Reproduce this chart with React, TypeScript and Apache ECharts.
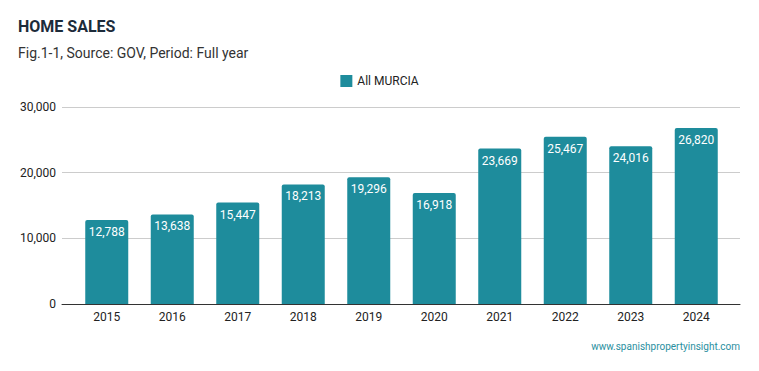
import React, { useEffect, useRef } from "react";
import * as echarts from "echarts";

const categories = ["2015", "2016", "2017", "2018", "2019", "2020", "2021", "2022", "2023", "2024"];
const sales = [12788, 13638, 15447, 18213, 19296, 16918, 23669, 25467, 24016, 26820];
const seriesName = "All MURCIA";
const titleText = "HOME SALES";
const subtitleText = "Fig.1-1, Source: GOV, Period: Full year";
const watermark = "www.spanishpropertyinsight.com";

export default function App() {
  const ref = useRef<HTMLDivElement>(null);
  useEffect(() => {
    if (!ref.current) return;
    const chart = echarts.init(ref.current, null, { renderer: "svg" });
    chart.setOption({
      animation: false,
      textStyle: { fontFamily: "Roboto" },
      title: {
        text: titleText,
        subtext: subtitleText,
        left: 13,
        top: 13,
        itemGap: 12,
        textStyle: { fontSize: 16, fontWeight: "bold", color: "#1c2b3a", fontFamily: "Roboto" },
        subtextStyle: { fontSize: 14, color: "#333", fontFamily: "Roboto" },
      },
      legend: {
        top: 70,
        left: "center",
        itemWidth: 12,
        itemHeight: 12,
        itemGap: 8,
        icon: "rect",
        textStyle: { fontSize: 12, color: "#222", fontFamily: "Roboto" },
        data: [seriesName],
      },
      graphic: [
        {
          type: "text",
          right: 19,
          top: 341,
          style: {
            text: watermark,
            fill: "#2a8fa0",
            font: "10px Roboto",
          },
        },
      ],
      grid: [
        { left: 62, right: 19, top: 107, bottom: 67, containLabel: false },
        { left: 74, right: 30, top: 107, bottom: 67, containLabel: false },
      ],
      xAxis: [
        {
          type: "value",
          gridIndex: 0,
          min: 0,
          max: 1,
          axisLabel: { show: false },
          axisTick: { show: false },
          splitLine: { show: false },
          axisLine: { show: true, onZero: false, lineStyle: { color: "#333", width: 1 } },
        },
        {
          type: "category",
          gridIndex: 1,
          data: categories,
          axisTick: { show: false },
          axisLine: { show: false },
          axisLabel: { fontSize: 12, color: "#222", margin: 7 },
        },
      ],
      yAxis: [
        {
          type: "value",
          gridIndex: 0,
          min: 0,
          max: 30000,
          interval: 10000,
          axisLabel: {
            fontSize: 12,
            color: "#222",
            margin: 6,
            formatter: (v: number) => v.toLocaleString("en-US"),
          },
          splitLine: { lineStyle: { color: "#ccc" } },
          axisLine: { show: false },
          axisTick: { show: false },
        },
        {
          type: "value",
          gridIndex: 1,
          min: 0,
          max: 30000,
          interval: 10000,
          show: false,
          splitLine: { show: false },
        },
      ],
      series: [
        {
          name: seriesName,
          type: "bar",
          xAxisIndex: 1,
          yAxisIndex: 1,
          data: sales,
          barWidth: 43,
          z: 3,
          itemStyle: { color: "#1e8c9c", borderRadius: [2, 2, 0, 0] },
          label: {
            show: true,
            position: "insideTop",
            distance: 6,
            color: "#fff",
            fontSize: 12,
            formatter: (p: any) => Number(p.value).toLocaleString("en-US"),
          },
        },
      ],
    });
    return () => chart.dispose();
  }, []);
  return (
    <div
      ref={ref}
      style={{ position: "absolute", left: 0, top: 0, width: 759, height: 371 }}
    />
  );
}
